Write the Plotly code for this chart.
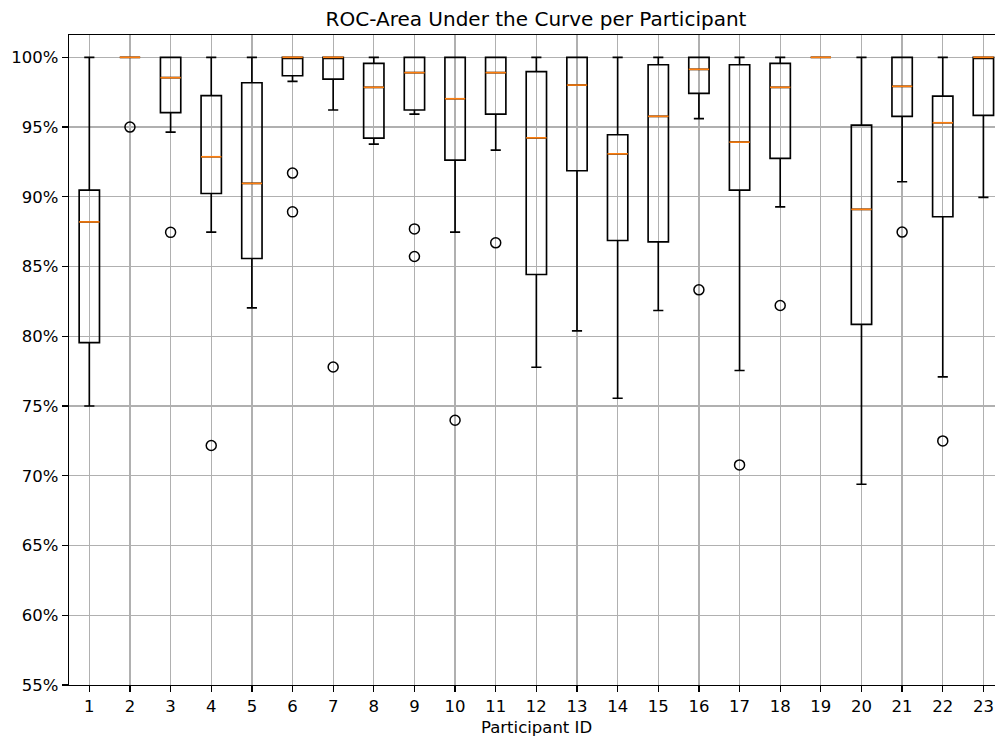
import plotly.graph_objects as go

# ---- data (ROC AUC in percent) ----
participants = list(range(1, 24))
q1 = [79.55, 100.0, 96.03, 90.24, 85.58, 98.68, 98.44, 94.21, 96.22, 92.63, 95.93, 84.43,
      91.87, 86.87, 86.77, 97.42, 90.48, 92.75, 100.0, 80.85, 95.77, 88.57, 95.84]
median = [88.20, 100.0, 98.54, 92.87, 90.96, 100.0, 100.0, 97.85, 98.90, 97.03, 98.90, 94.23,
          98.01, 93.08, 95.77, 99.14, 93.92, 97.85, 100.0, 89.10, 97.92, 95.31, 100.0]
q3 = [90.48, 100.0, 100.0, 97.25, 98.18, 100.0, 100.0, 99.57, 100.0, 100.0, 100.0, 98.97,
      100.0, 94.45, 99.47, 100.0, 99.47, 99.57, 100.0, 95.14, 100.0, 97.22, 100.0]
whisker_low = [75.00, 100.0, 94.64, 87.47, 82.04, 98.28, 96.22, 93.78, 95.93, 87.47, 93.35, 77.78,
               80.39, 75.56, 81.85, 95.60, 77.55, 89.28, 100.0, 69.39, 91.08, 77.09, 89.96]
whisker_high = [100.0, 100.0, 100.0, 100.0, 100.0, 100.0, 100.0, 100.0, 100.0, 100.0, 100.0, 100.0,
                100.0, 100.0, 100.0, 100.0, 100.0, 100.0, 100.0, 100.0, 100.0, 100.0, 100.0]

outlier_participant = [2, 3, 4, 6, 6, 7, 9, 9, 10, 11, 16, 17, 18, 21, 22]
outlier_value = [95.0, 87.45, 72.17, 91.7, 88.92, 77.8, 87.7, 85.72, 73.98, 86.7, 83.33, 70.78,
                 82.21, 87.47, 72.5]

y_ticks = [55, 60, 65, 70, 75, 80, 85, 90, 95, 100]

# ---- style ----
FONT = "DejaVu Sans"
BOX_W = 0.5
LW = 1.65
GRID = "#b0b0b0"

fig = go.Figure()

fig.add_trace(go.Box(
    x=participants, q1=q1, median=median, q3=q3,
    lowerfence=whisker_low, upperfence=whisker_high,
    width=BOX_W, whiskerwidth=0.5,
    line=dict(color="black", width=LW),
    fillcolor="rgba(0,0,0,0)",
    boxpoints=False, hoverinfo="skip", showlegend=False,
))

# orange median lines
mx, my = [], []
for p, m in zip(participants, median):
    mx += [p - BOX_W / 2, p + BOX_W / 2, None]
    my += [m, m, None]
fig.add_trace(go.Scatter(
    x=mx, y=my, mode="lines",
    line=dict(color="#ff7f0e", width=LW),
    hoverinfo="skip", showlegend=False,
))

# outliers
fig.add_trace(go.Scatter(
    x=outlier_participant, y=outlier_value, mode="markers",
    marker=dict(symbol="circle-open", size=10, color="black", line=dict(width=1.5, color="black")),
    hoverinfo="skip", showlegend=False,
))

L, T, B = 69, 35, 58
fig.update_layout(
    width=995, height=743,
    margin=dict(l=L, r=0, t=T, b=B, pad=0),
    paper_bgcolor="white", plot_bgcolor="white",
    font=dict(family=FONT, size=16.5, color="black"),
    showlegend=False,
    title=dict(
        text="ROC-Area Under the Curve per Participant",
        font=dict(family=FONT, size=20, color="black"),
        x=(536 - L) / (995 - L), xref="paper", xanchor="center",
        y=1 - 19 / 743, yref="container", yanchor="middle",
    ),
    xaxis=dict(
        range=[0.5, 0.5 + (995 - L) / 40.64],
        tickmode="array", tickvals=participants,
        ticktext=[str(p) for p in participants],
        showgrid=True, gridcolor=GRID, gridwidth=1.3,
        showline=True, linecolor="black", linewidth=1.3, mirror=True,
        ticks="outside", ticklen=6, tickwidth=1.3, tickcolor="black",
        zeroline=False,
        tickfont=dict(family=FONT, size=16.5, color="black"),
    ),
    yaxis=dict(
        range=[55, 101.6],
        tickmode="array", tickvals=y_ticks, ticktext=[f"{v}%" for v in y_ticks],
        showgrid=True, gridcolor=GRID, gridwidth=1.3,
        showline=True, linecolor="black", linewidth=1.3, mirror=False,
        ticks="outside", ticklen=6, tickwidth=1.3, tickcolor="black",
        zeroline=False,
        tickfont=dict(family=FONT, size=16.5, color="black"),
    ),
    annotations=[dict(
        text="Participant ID", xref="paper", yref="paper",
        x=(536 - L) / (995 - L), y=0, xanchor="center", yanchor="middle",
        yshift=-(727 - (743 - B)), showarrow=False,
        font=dict(family=FONT, size=16.5, color="black"),
    )],
)

fig.write_html(
    "out.html",
    config={"displayModeBar": False, "staticPlot": True},
    post_script="document.body.style.margin='0';document.body.style.overflow='hidden';",
)
